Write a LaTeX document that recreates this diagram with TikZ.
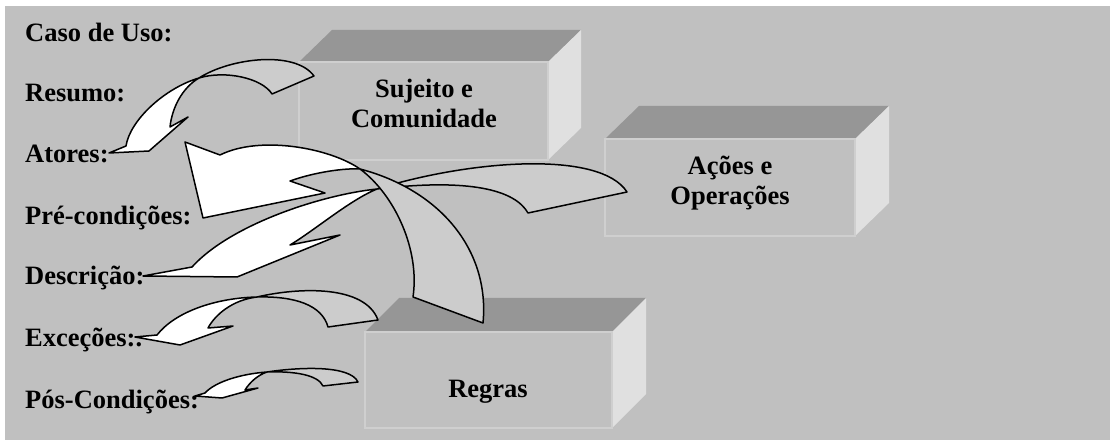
\documentclass[tikz,border=0pt]{standalone}
\usepackage{fontspec}
\setmainfont{Liberation Serif}
\definecolor{bggray}{HTML}{C0C0C0}
\definecolor{topgray}{HTML}{969696}
\definecolor{sidegray}{HTML}{E0E0E0}
\definecolor{edgegray}{HTML}{CFCFCF}
\definecolor{backgray}{HTML}{CCCCCC}
\begin{document}
\begin{tikzpicture}[x=1pt,y=-1pt,
			labelblack/.style={anchor=base west, inner sep=0pt, font=\fontsize{26.5}{30}\selectfont\bfseries},
			boxtext/.style={anchor=base, inner sep=0pt, align=center, font=\fontsize{26.5}{30}\selectfont\bfseries},
			facetop/.style={fill=topgray},
			faceside/.style={fill=sidegray},
			facefront/.style={fill=bggray, draw=edgegray, line width=1.5pt},
			arrowwhite/.style={draw=black, fill=white, line width=1.5pt, line join=round},
			arrowgray/.style={draw=black, fill=backgray, line width=1.5pt, line join=round},
			]
\useasboundingbox (0,0) rectangle (1110,443);
\fill[white] (0,0) rectangle (1110,443);
\fill[bggray] (5,6) rectangle (1110,440);

\fill[facetop] (299,62) -- (332,30) -- (581,30) -- (548,62) -- cycle;
\fill[faceside] (548,62) -- (581,30) -- (581,128) -- (548,160) -- cycle;
\draw[facefront] (299,62) rectangle (548,160);
\node[boxtext] (sujeito) at (424,128) {Sujeito e\\Comunidade};

\fill[facetop] (605,139) -- (639,106) -- (889,106) -- (855,139) -- cycle;
\fill[faceside] (855,139) -- (889,106) -- (889,203) -- (855,236) -- cycle;
\draw[facefront] (605,139) rectangle (855,236);
\node[boxtext] (acoes) at (730,205) {Ações e\\Operações};

\fill[facetop] (365,332) -- (399,298) -- (646,298) -- (612,332) -- cycle;
\fill[faceside] (612,332) -- (646,298) -- (646,394) -- (612,428) -- cycle;
\draw[facefront] (365,332) rectangle (612,428);
\node[boxtext] (regras) at (488,397) {Regras};

\node[labelblack] (caso) at (25,42) {Caso de Uso:};
\node[labelblack] (resumo) at (25,102) {Resumo:};
\node[labelblack] (atores) at (25,163) {Atores:};
\node[labelblack] (precond) at (25,225) {Pré-condições:};
\node[labelblack] (descricao) at (25,285) {Descrição:};
\node[labelblack] (excecoes) at (25,346) {Exceções:.};
\node[labelblack] (poscond) at (25,408) {Pós-Condições:};

\draw[arrowgray] (199,78) .. controls (230,58) and (295,50) .. (314,76) -- (272,94) .. controls (262,78) and (225,70) .. cycle;
\draw[arrowwhite] (199,78) .. controls (165,88) and (130,120) .. (126,146) -- (109,153) -- (149,151) -- (188,117) -- (170,127) .. controls (172,108) and (182,88) .. cycle;

\draw[arrowgray] (377,189) .. controls (470,160) and (600,150) .. (627,192) -- (528,213) .. controls (515,190) and (470,178) .. cycle;
\draw[arrowwhite] (377,189) .. controls (320,195) and (230,225) .. (192,267) -- (143,276) -- (237,277) -- (340,235) -- (290,245) .. controls (315,230) and (350,200) .. cycle;

\draw[arrowgray] (360,169) .. controls (395,195) and (420,250) .. (413,297) -- (483,323) .. controls (490,250) and (440,190) .. cycle;
\draw[arrowwhite] (360,169) .. controls (330,148) and (260,135) .. (220,155) -- (185,142) -- (203,218) -- (325,193) -- (290,181) .. controls (315,172) and (345,168) .. cycle;

\draw[arrowgray] (257,297) .. controls (300,287) and (365,285) .. (378,320) -- (328,327) .. controls (322,305) and (295,296) .. cycle;
\draw[arrowwhite] (257,297) .. controls (215,298) and (175,312) .. (157,335) -- (135,337) -- (180,345) -- (233,326) -- (208,328) .. controls (215,315) and (232,300) .. cycle;

\draw[arrowgray] (267,372) .. controls (300,367) and (350,365) .. (358,382) -- (323,386) .. controls (318,375) and (295,371) .. cycle;
\draw[arrowwhite] (267,372) .. controls (240,374) and (215,382) .. (205,393) -- (195,396) -- (222,398) -- (258,388) -- (245,390) .. controls (250,382) and (258,375) .. cycle;

\end{tikzpicture}
\end{document}
